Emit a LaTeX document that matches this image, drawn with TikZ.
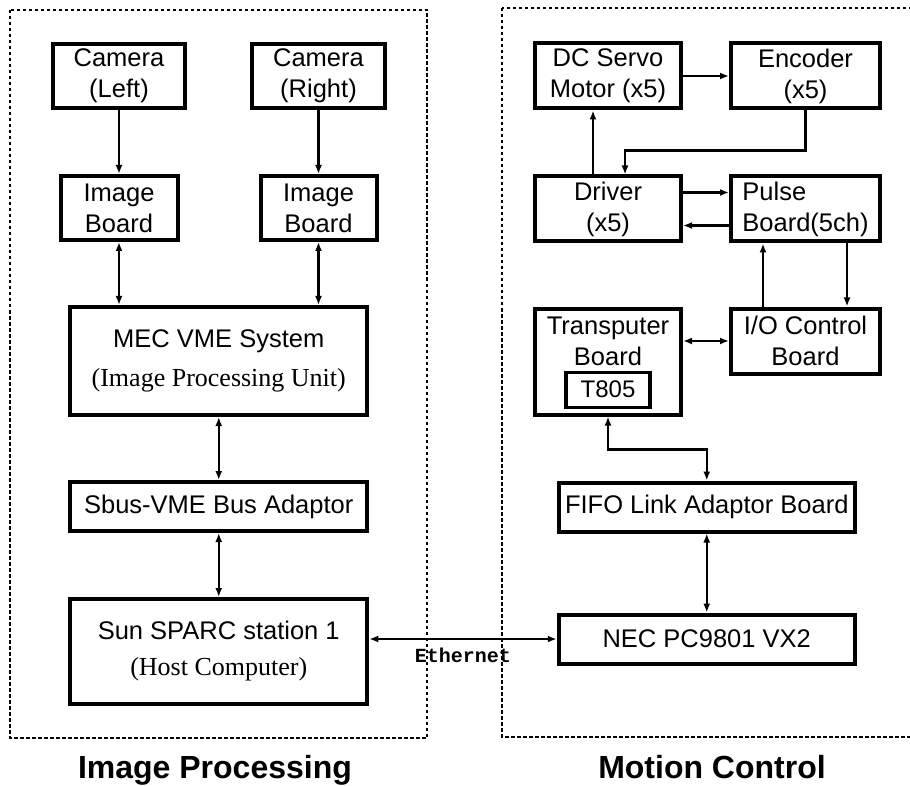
\documentclass[tikz,border=0pt]{standalone}
\usepackage{fontspec}
\setmainfont{Liberation Sans}
\newfontfamily\serifrm{Liberation Serif}
\newfontfamily\ethfont{Liberation Mono}
\usetikzlibrary{arrows.meta,positioning,calc}
\tikzset{
  blk/.style={draw=black,line width=4pt,fill=white,align=center,inner sep=0pt,font=\fontsize{25.5}{31}\selectfont},
  inner/.style={blk,line width=3.2pt,font=\fontsize{24}{28}\selectfont},
  txt/.style={align=center,inner sep=0pt,font=\fontsize{25.5}{31}\selectfont},
  grp/.style={draw=black,line width=1.8pt,dash pattern=on 3.5pt off 2.5pt},
  title/.style={font=\bfseries\fontsize{32}{36}\selectfont,inner sep=0pt,anchor=base},
  eth/.style={font=\ethfont\bfseries\fontsize{20}{22}\selectfont,inner sep=0pt},
  arr/.style={-{Latex[length=9pt,width=7pt]},line width=2.2pt},
  both/.style={{Latex[length=9pt,width=7pt]}-{Latex[length=9pt,width=7pt]},line width=2.2pt}
}
\begin{document}
\begin{tikzpicture}[x=1pt,y=-1pt]
\useasboundingbox (0,0) rectangle (910,786);
\clip (0,0) rectangle (910,786);

% image processing side
\node[blk,minimum width=132pt,minimum height=64pt] (camL) at (119,76) {Camera\\(Left)};
\node[blk,minimum width=133pt,minimum height=64pt,right=63pt of camL] (camR) {Camera\\(Right)};
\node[blk,minimum width=117pt,minimum height=64pt,below=64pt of camL] (imgL) {Image\\Board};
\node[blk,minimum width=116pt,minimum height=64pt,below=64pt of camR] (imgR) {Image\\Board};
\coordinate (lmid) at ($(imgL.south)!0.5!(imgR.south)$);
\node[blk,minimum width=297pt,minimum height=108pt,below=63pt of lmid] (mec) {MEC VME System\\[8pt]{\serifrm\fontsize{26}{31}\selectfont (Image Processing Unit)}};
\node[blk,minimum width=297pt,minimum height=49pt,below=63pt of mec] (sbus) {Sbus-VME Bus Adaptor};
\node[blk,minimum width=297pt,minimum height=105pt,below=64pt of sbus] (sun) {Sun SPARC station 1\\[5pt]{\serifrm\fontsize{26}{31}\selectfont (Host Computer)}};

% motion control side
\node[blk,minimum width=146pt,minimum height=65pt,right=146pt of camR] (servo) {DC Servo\\Motor (x5)};
\node[blk,minimum width=149pt,minimum height=65pt,right=46pt of servo] (enc) {Encoder\\(x5)};
\node[blk,minimum width=146pt,minimum height=65pt,below=64pt of servo] (driver) {Driver\\(x5)};
\node[blk,minimum width=149pt,minimum height=65pt,below=64pt of enc,align=left] (pulse) {Pulse\\Board(5ch)};
\node[blk,minimum width=146pt,minimum height=106pt,below=63pt of driver] (trans) {};
\node[txt,below=10pt of trans.north] (transtxt) {Transputer\\Board};
\node[inner,minimum width=84pt,minimum height=35pt,below=64pt of trans.north] (t805) {T805};
\node[blk,minimum width=149pt,minimum height=65pt,below=63pt of pulse] (io) {I/O Control\\Board};
\coordinate (rmid) at ($(servo)!0.5!(enc)$);
\coordinate (f0) at (trans.south -| rmid);
\node[blk,minimum width=296pt,minimum height=49pt,below=64pt of f0] (fifo) {FIFO Link Adaptor Board};
\node[blk,minimum width=296pt,minimum height=49pt,below=79pt of fifo] (nec) {NEC PC9801 VX2};

% groups
\draw[grp] (10,10) rectangle (427,738);
\draw[grp] (502,8) rectangle (920,737);

\node[title] (tip) at (215,778) {Image Processing};
\node[title] (tmc) at (712,778) {Motion Control};

% connectors
\draw[arr] (camL) -- (imgL);
\draw[arr] (camR.south) -- (camR.south |- imgR.north);
\draw[both] (imgL.south) -- (imgL.south |- mec.north);
\draw[both] (imgR.south) -- (imgR.south |- mec.north);
\draw[both] (mec) -- (sbus);
\draw[both] (sbus) -- (sun);
\draw[both] (nec.west) -- (nec.west -| sun.east) node[midway,below=8pt,eth] (ethl) {Ethernet};

\draw[arr] (servo) -- (enc);
\draw[arr] ([xshift=-15pt]driver.north) -- ([xshift=-15pt]servo.south);
\draw[arr] (enc.south) -- ++(0,40) -| ([xshift=17pt]driver.north);
\draw[arr] ([yshift=16.5pt]driver.east) -- ([yshift=16.5pt]driver.east -| pulse.west);
\draw[arr] ([yshift=-16.5pt]pulse.west) -- ([yshift=-16.5pt]pulse.west -| driver.east);
\draw[arr] ([xshift=-42.5pt]io.north) -- ([xshift=-42.5pt]pulse.south);
\draw[arr] ([xshift=41.5pt]pulse.south) -- ([xshift=41.5pt]io.north);
\draw[both] (io.west) -- (io.west -| trans.east);
\draw[both] (trans.south) -- ++(0,33) -| (fifo.north);
\draw[both] (fifo) -- (nec);
\end{tikzpicture}
\end{document}
